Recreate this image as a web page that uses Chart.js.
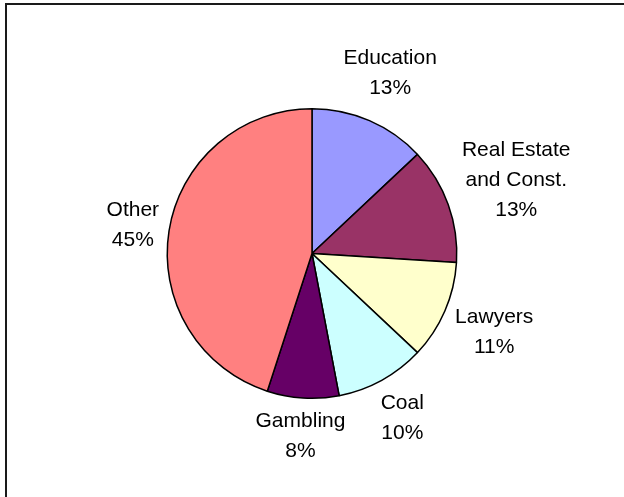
<!DOCTYPE html>
<html>
<head>
<meta charset="utf-8">
<script src="https://cdn.jsdelivr.net/npm/chart.js@4/dist/chart.umd.min.js"></script>
<style>
  html, body { margin: 0; padding: 0; background: #fff; }
  #wrap { width: 624px; height: 497px; position: relative; }
</style>
</head>
<body>
<div id="wrap"><canvas id="pie" width="624" height="497"></canvas></div>
<script>
// chart data
const categories = ['Education', ['Real Estate', 'and Const.'], 'Lawyers', 'Coal', 'Gambling', 'Other'];
const shares = [13, 13, 11, 10, 8, 45];
const sliceColors = ['#9999FF', '#993366', '#FFFFCC', '#CCFFFF', '#660066', '#FF8080'];

const FONT = '21px "Liberation Sans", Arial, sans-serif';
const LINE_H = 30;

// frame around the chart (only top and left edges are visible in the picture)
const framePlugin = {
  id: 'frame',
  beforeDraw(chart) {
    const ctx = chart.ctx;
    ctx.save();
    ctx.strokeStyle = '#1a1a1a';
    ctx.lineWidth = 2;
    ctx.beginPath();
    ctx.moveTo(6, 497);
    ctx.lineTo(6, 4);
    ctx.lineTo(624, 4);
    ctx.stroke();
    ctx.restore();
  }
};

// outside-end labels: category name + percentage
const outsideLabels = {
  id: 'outsideLabels',
  afterDatasetsDraw(chart) {
    const ctx = chart.ctx;
    const meta = chart.getDatasetMeta(0);
    const total = shares.reduce((a, b) => a + b, 0);
    ctx.save();
    ctx.font = FONT;
    ctx.fillStyle = '#000';
    ctx.textAlign = 'center';
    ctx.textBaseline = 'middle';
    meta.data.forEach((arc, i) => {
      const lines = [].concat(categories[i]);
      lines.push(Math.round(shares[i] / total * 100) + '%');
      const w = Math.max(...lines.map(t => ctx.measureText(t).width));
      const h = lines.length * LINE_H;
      const mid = (arc.startAngle + arc.endAngle) / 2;
      const dx = Math.cos(mid), dy = Math.sin(mid);
      const dist = arc.outerRadius + 6 + Math.abs(dx) * w / 2 + Math.abs(dy) * h / 2;
      const cx = arc.x + dx * dist;
      const cy = arc.y + dy * dist;
      lines.forEach((t, j) => {
        ctx.fillText(t, cx, cy - h / 2 + LINE_H / 2 + j * LINE_H);
      });
    });
    ctx.restore();
  }
};

new Chart(document.getElementById('pie'), {
  type: 'pie',
  data: {
    labels: categories,
    datasets: [{
      data: shares,
      backgroundColor: sliceColors,
      borderColor: '#000',
      borderWidth: 1.5
    }]
  },
  options: {
    responsive: false,
    animation: false,
    layout: { padding: { top: 108, bottom: 98, left: 100, right: 100 } },
    plugins: {
      legend: { display: false },
      tooltip: { enabled: false }
    }
  },
  plugins: [framePlugin, outsideLabels]
});
</script>
</body>
</html>
